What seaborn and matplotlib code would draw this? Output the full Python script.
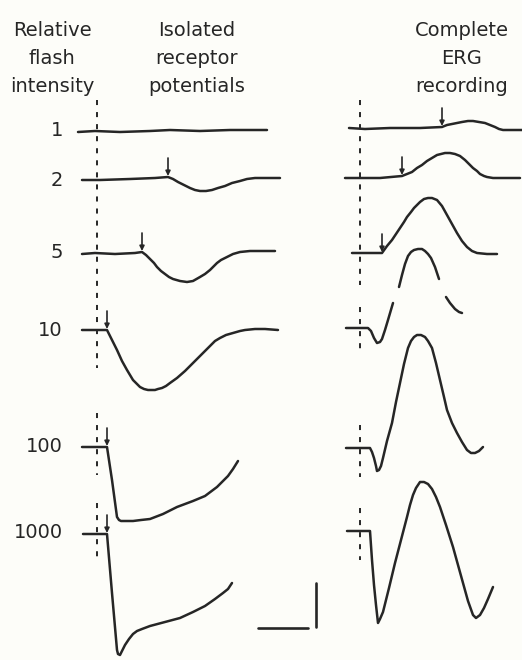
import numpy as np
import pandas as pd
import matplotlib.pyplot as plt
import seaborn as sns

# row labels (relative flash intensity)
intensity = ["1", "2", "5", "10", "100", "1000"]

# isolated receptor potentials (px, y down)
rp1_x = [78, 95, 120, 150, 170, 200, 230, 267]
rp1_y = [132, 131, 132, 131, 130, 131, 130, 130]
rp2_x = [82, 100, 130, 155, 168, 173, 178, 184, 190, 195, 200, 206, 212, 218, 225, 232,
         240, 247, 255, 270, 280]
rp2_y = [180, 180, 179, 178, 177, 179, 182, 185, 188, 190, 191, 191, 190, 188, 186, 183,
         181, 179, 178, 178, 178]
rp5_x = [82, 95, 115, 135, 142, 146, 150, 154, 157, 161, 165, 169, 173, 180, 187, 193,
         200, 205, 210, 214, 217, 221, 225, 229, 233, 240, 250, 262, 275]
rp5_y = [254, 253, 254, 253, 252, 255, 259, 263, 267, 271, 274, 277, 279, 281, 282, 281,
         277, 274, 270, 266, 263, 260, 258, 256, 254, 252, 251, 251, 251]
rp10_x = [82, 107, 112, 117, 122, 127, 133, 137, 140, 144, 148, 152, 155, 158, 162, 166,
          170, 177, 185, 193, 202, 210, 215, 220, 226, 233, 240, 245, 255, 265, 278]
rp10_y = [330, 330, 340, 350, 361, 370, 380, 384, 387, 389, 390, 390, 390, 389, 388, 386,
          383, 378, 371, 363, 354, 346, 341, 338, 335, 333, 331, 330, 329, 329, 330]
rp100_x = [82, 107, 112, 117, 119, 121, 127, 133, 141, 150, 163, 177, 193, 205, 217, 228,
           233, 238]
rp100_y = [447, 447, 480, 517, 520, 521, 521, 521, 520, 519, 514, 507, 501, 496, 487, 476,
           469, 461]
rp1000_x = [83, 107, 112, 117, 118, 120, 122, 125, 129, 133, 137, 142, 150, 165, 180, 193,
            205, 215, 223, 228, 232]
rp1000_y = [534, 534, 593, 650, 654, 655, 651, 645, 639, 634, 631, 629, 626, 622, 618, 612,
            606, 599, 593, 589, 583]

# complete ERG recordings
erg1_x = [349, 365, 390, 420, 442, 447, 452, 457, 462, 468, 473, 479, 485, 490, 495, 499,
          503, 510, 522]
erg1_y = [128, 129, 128, 128, 127, 125, 124, 123, 122, 121, 121, 122, 123, 125, 127, 129,
          130, 130, 130]
erg2_x = [345, 360, 380, 402, 407, 412, 417, 422, 427, 432, 437, 441, 445, 450, 455, 460,
          465, 469, 473, 477, 480, 484, 487, 493, 500, 520]
erg2_y = [178, 178, 178, 176, 174, 172, 168, 165, 161, 158, 155, 154, 153, 153, 154, 156,
          160, 164, 168, 171, 174, 176, 177, 178, 178, 178]
erg5_x = [352, 370, 382, 387, 392, 396, 400, 404, 407, 411, 414, 417, 420, 424, 428, 432,
          437, 442, 447, 452, 457, 462, 467, 472, 477, 487, 497]
erg5_y = [253, 253, 253, 246, 240, 234, 228, 222, 217, 212, 208, 205, 202, 199, 198, 198,
          200, 206, 215, 224, 233, 241, 247, 251, 253, 254, 254]
# the 10 trace is faded in places on the original, so it comes in three pieces
erg10a_x = [346, 368, 371, 374, 377, 380, 382, 385, 388, 393]
erg10a_y = [328, 328, 331, 338, 343, 342, 339, 330, 320, 303]
erg10b_x = [399, 402, 405, 408, 411, 414, 418, 422, 425, 428, 431, 435, 439]
erg10b_y = [287, 275, 264, 256, 252, 250, 249, 249, 251, 254, 258, 267, 279]
erg10c_x = [446, 450, 455, 459, 462]
erg10c_y = [297, 303, 309, 312, 313]
erg100_x = [346, 370, 372, 374, 376, 377, 379, 381, 383, 387, 392, 396, 400, 404, 408,
            411, 414, 417, 421, 425, 428, 432, 436, 440, 444, 447, 452, 457, 462, 467,
            471, 475, 479, 483]
erg100_y = [448, 448, 452, 458, 466, 471, 470, 466, 458, 441, 423, 402, 383, 364, 348,
            341, 337, 335, 335, 337, 341, 348, 363, 380, 397, 410, 423, 433, 442, 450,
            453, 453, 451, 447]
erg1000_x = [347, 370, 372, 374, 376, 378, 380, 383, 389, 395, 401, 407, 410, 413, 416,
             420, 424, 428, 432, 436, 440, 446, 453, 458, 463, 468, 473, 476, 480, 484,
             488, 493]
erg1000_y = [531, 531, 560, 585, 605, 623, 619, 612, 588, 563, 540, 517, 505, 495, 488,
             482, 482, 484, 489, 497, 507, 525, 547, 565, 583, 601, 615, 618, 615, 608,
             599, 587]

# where the response starts (arrow)
rp_arrow = [None, 168, 142, 107, 107, 107]
erg_arrow = [442, 402, 382, None, None, None]

traces = {
    "rp1": (rp1_x, rp1_y), "rp2": (rp2_x, rp2_y), "rp5": (rp5_x, rp5_y),
    "rp10": (rp10_x, rp10_y), "rp100": (rp100_x, rp100_y), "rp1000": (rp1000_x, rp1000_y),
    "erg1": (erg1_x, erg1_y), "erg2": (erg2_x, erg2_y), "erg5": (erg5_x, erg5_y),
    "erg10a": (erg10a_x, erg10a_y), "erg10b": (erg10b_x, erg10b_y),
    "erg10c": (erg10c_x, erg10c_y), "erg100": (erg100_x, erg100_y),
    "erg1000": (erg1000_x, erg1000_y),
}
df = pd.concat([pd.DataFrame({"x": x, "y": y, "trace": k}) for k, (x, y) in traces.items()])

ink = "#262626"
sns.set_theme(style="white")
plt.rcParams["font.family"] = ["DejaVu Sans"]

fig = plt.figure(figsize=(5.22, 6.6), dpi=100, facecolor="#fdfdf9")
ax = fig.add_axes([0, 0, 1, 1])
ax.set_facecolor("#fdfdf9")

sns.lineplot(data=df, x="x", y="y", units="trace", estimator=None, sort=False,
             color=ink, lw=1.8, ax=ax)

# flash-time dashed markers
dash = dict(color=ink, lw=1.4, linestyle=(0, (2.6, 3.6)))
for x0, segs in [(97, [(100, 368), (413, 475), (503, 563)]),
                 (360, [(100, 285), (307, 355), (425, 477), (508, 560)])]:
    for y0, y1 in segs:
        ax.plot([x0, x0], [y0, y1], **dash)

# onset arrows
for prefix, arrows in [("rp", rp_arrow), ("erg", erg_arrow)]:
    for lab, xa in zip(intensity, arrows):
        if xa is None:
            continue
        tx, ty = traces[prefix + lab]
        ytip = np.interp(xa, tx, ty) - 1
        ax.annotate("", xy=(xa, ytip), xytext=(xa, ytip - 18),
                    arrowprops=dict(arrowstyle="-|>", color=ink, lw=1.2,
                                    mutation_scale=7, shrinkA=0, shrinkB=0))

# row labels
for lab, yb in zip(intensity, [131, 181, 252, 330, 446, 532]):
    ax.text(63, yb, lab, ha="right", va="center", fontsize=14, color=ink)

# column headings
heads = [(52, ["Relative", "flash", "intensity"]),
         (197, ["Isolated", "receptor", "potentials"]),
         (462, ["Complete", "ERG", "recording"])]
for xc, lines in heads:
    for i, t in enumerate(lines):
        ax.text(xc, 36 + 28 * i, t, ha="center", va="baseline", fontsize=14, color=ink)

# scale bar
ax.plot([258, 308], [628, 628], color=ink, lw=1.9)
ax.plot([316, 316], [583, 627], color=ink, lw=1.9)

ax.set_xlim(0, 522)
ax.set_ylim(660, 0)
ax.axis("off")
fig.savefig("out.png", dpi=100, facecolor=fig.get_facecolor())
